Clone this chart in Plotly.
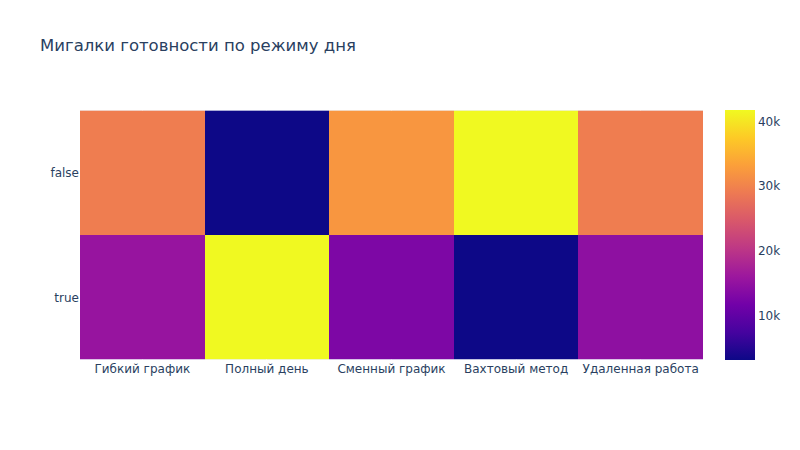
import plotly.graph_objects as go

categories = ["Гибкий график", "Полный день", "Сменный график", "Вахтовый метод", "Удаленная работа"]
rows = ["false", "true"]
values_false = [29400, 3100, 32200, 41800, 29400]
values_true = [15500, 41800, 12800, 3100, 14600]

fig = go.Figure(go.Heatmap(
    x=categories,
    y=rows,
    z=[values_false, values_true],
    colorscale="Plasma",
    colorbar=dict(thickness=30, outlinewidth=0),
))
fig.update_layout(
    title=dict(text="Мигалки готовности по режиму дня", x=0.05, y=0.9, yanchor="middle",
               font=dict(size=16.5)),
    font=dict(family="DejaVu Sans"),
    width=800, height=450,
    margin=dict(l=80, r=80, t=100, b=80),
    template="plotly",
    xaxis=dict(constrain="domain"),
    yaxis=dict(autorange="reversed", scaleanchor="x", constrain="domain"),
)
fig.write_html("out.html")
